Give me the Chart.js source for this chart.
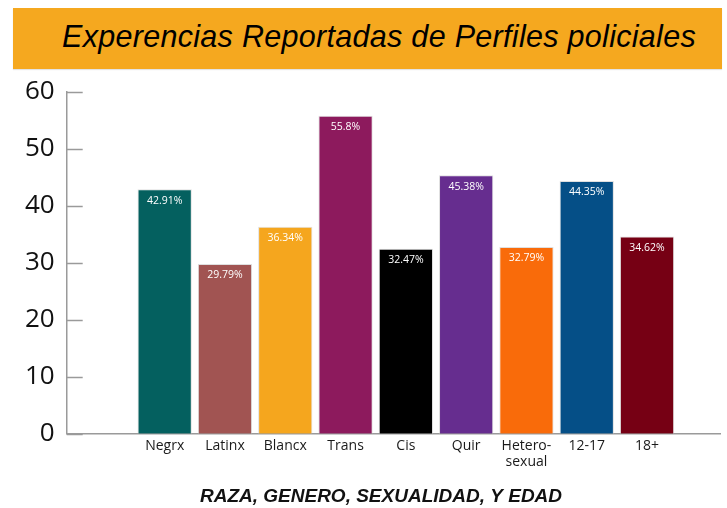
<!DOCTYPE html>
<html>
<head>
<meta charset="utf-8">
<script src="https://cdn.jsdelivr.net/npm/chart.js"></script>
<style>
  body { margin: 0; background: #fff; width: 727px; height: 508px; overflow: hidden; position: relative; }
  .banner {
    position: absolute; left: 13px; top: 8px; width: 709px; height: 61px;
    background: #F5A81F; box-shadow: 0 1px 1px #e3e3e3;
    font: italic 30.5px 'Liberation Sans', Arial, sans-serif; line-height: 57px; letter-spacing: 0.3px;
    padding-left: 49px; box-sizing: border-box; color: #000; white-space: nowrap;
  }
  #chart { position: absolute; left: 0; top: 70px; }
</style>
</head>
<body>
<div class="banner">Experencias Reportadas de Perfiles policiales</div>
<canvas id="chart" width="727" height="438"></canvas>
<script>
// data
const categories = ['Negrx', 'Latinx', 'Blancx', 'Trans', 'Cis', 'Quir', ['Hetero-', 'sexual'], '12-17', '18+'];
const percentValues = [42.91, 29.79, 36.34, 55.8, 32.47, 45.38, 32.79, 44.35, 34.62];
const barColors = ['#04605F', '#A15452', '#F5A61E', '#8D1A5D', '#000000', '#662D8F', '#F96B0A', '#054F87', '#760014'];
const yTicks = [0, 10, 20, 30, 40, 50, 60];

const axisGray = '#9a9a9a';
const yFont = "26px 'Open Sans', sans-serif";

// widest y label, so mirrored labels can sit right-aligned left of the axis
const meas = document.createElement('canvas').getContext('2d');
meas.font = yFont;
const widestY = Math.max(...yTicks.map(v => meas.measureText(String(v)).width));

// short tick marks pointing into the plot, like the original
const innerTicks = {
    id: 'innerTicks',
    afterDraw(chart) {
        const ctx = chart.ctx;
        const y = chart.scales.y;
        const left = chart.chartArea.left;
        ctx.save();
        ctx.strokeStyle = axisGray;
        ctx.lineWidth = 1.5;
        y.ticks.forEach(t => {
            const py = Math.round(y.getPixelForValue(t.value)) + 0.5;
            ctx.beginPath();
            ctx.moveTo(left, py);
            ctx.lineTo(left + 16, py);
            ctx.stroke();
        });
        ctx.restore();
    }
};

// percent labels inside top of each bar
const barLabels = {
    id: 'barLabels',
    afterDatasetsDraw(chart) {
        const ctx = chart.ctx;
        const meta = chart.getDatasetMeta(0);
        ctx.save();
        ctx.fillStyle = '#ffffff';
        ctx.font = "10.5px 'Open Sans', sans-serif";
        ctx.textAlign = 'center';
        ctx.textBaseline = 'middle';
        meta.data.forEach((bar, i) => {
            ctx.fillText(percentValues[i] + '%', bar.x, bar.y + 11.5);
        });
        ctx.restore();
    }
};

Chart.defaults.font.family = "'Open Sans', sans-serif";

new Chart(document.getElementById('chart').getContext('2d'), {
    type: 'bar',
    data: {
        datasets: [{
            data: percentValues.map((v, i) => ({ x: i, y: v })),
            backgroundColor: barColors,
            borderColor: 'rgba(210,210,210,0.7)',
            borderWidth: 1,
            barPercentage: 1,
            categoryPercentage: 0.9
        }]
    },
    options: {
        responsive: false,
        animation: false,
        layout: { padding: { left: 42, right: 7, top: 21.8, bottom: 0 } },
        plugins: {
            legend: { display: false },
            tooltip: { enabled: false },
            title: {
                display: true,
                position: 'bottom',
                text: 'RAZA, GENERO, SEXUALIDAD, Y EDAD',
                color: '#111',
                font: { family: "'Liberation Sans', Arial, sans-serif", size: 19, weight: 'bold', style: 'italic' },
                padding: { top: 0, bottom: 0 }
            }
        },
        scales: {
            x: {
                type: 'linear',
                min: -1.625,
                max: 9.21,
                offset: false,
                bounds: 'data',
                grid: { display: false, drawTicks: false, offset: false },
                border: { display: true, color: axisGray, width: 1.5 },
                afterBuildTicks: s => { s.ticks = categories.map((c, i) => ({ value: i })); },
                afterFit: s => { s.height = 51.4; },
                ticks: {
                    stepSize: 1,
                    autoSkip: false,
                    maxRotation: 0,
                    padding: 5,
                    color: '#1a1a1a',
                    font: { size: 14, lineHeight: 1.1 },
                    callback: v => categories[v]
                }
            },
            y: {
                min: 0,
                max: 60,
                grid: { display: false, drawTicks: false },
                border: { display: true, color: axisGray, width: 1.5 },
                afterBuildTicks: s => { s.ticks = yTicks.map(v => ({ value: v })); },
                afterFit: s => { s.width = 24.7; },
                ticks: {
                    mirror: true,
                    crossAlign: 'far',
                    padding: -12 - widestY,
                    color: '#111',
                    font: { size: 26 }
                }
            }
        }
    },
    plugins: [innerTicks, barLabels]
});
</script>
</body>
</html>
